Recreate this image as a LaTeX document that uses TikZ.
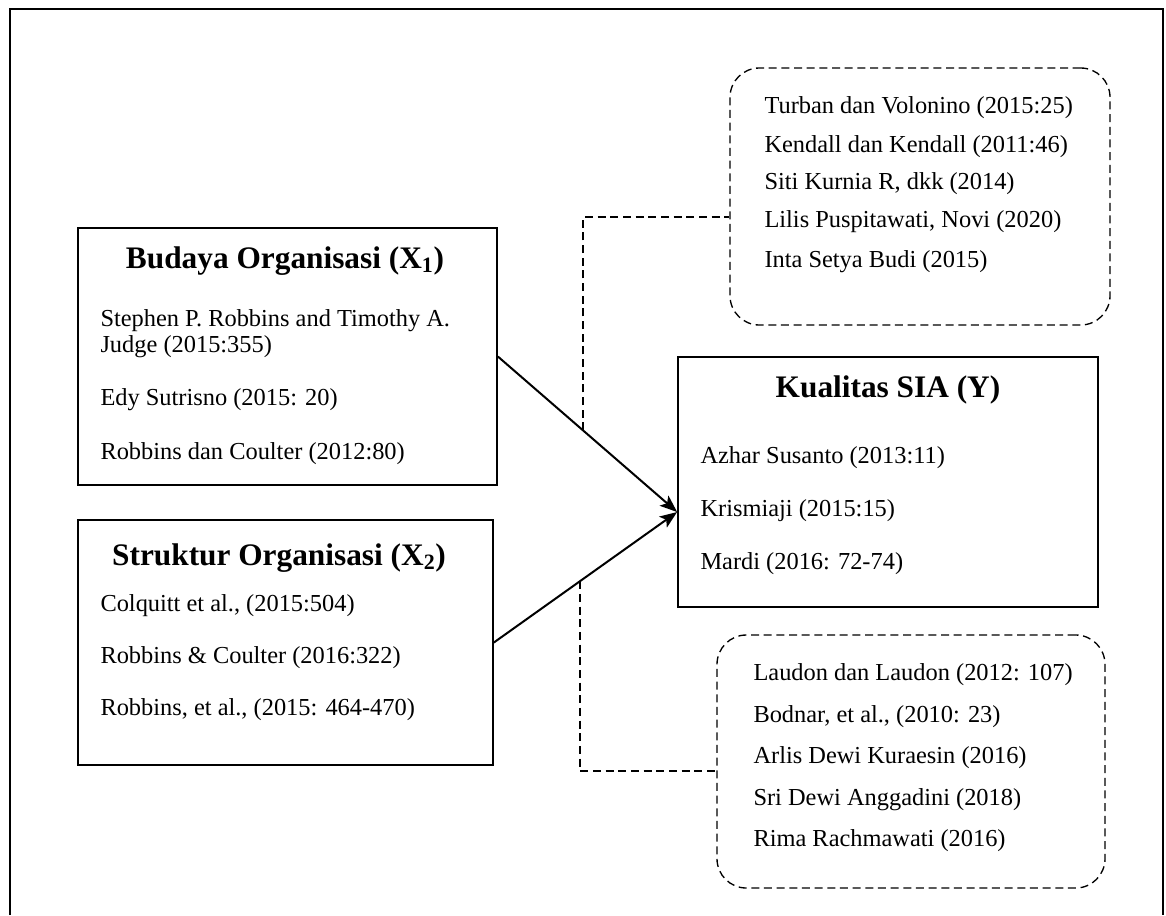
\documentclass[tikz,border=0pt]{standalone}
\usepackage{fontspec}
\setmainfont{Liberation Serif}
\usetikzlibrary{arrows.meta,calc}

\tikzset{every picture/.style={line width=0.75pt}}
\tikzset{
  varbox/.style={draw, rectangle, line width=1.3pt, inner sep=0pt},
  litbox/.style={draw, rectangle, line width=1pt, dash pattern=on 6pt off 3.5pt, rounded corners=22pt, inner sep=0pt},
  judul/.style={anchor=base, inner sep=0.75pt, font=\fontsize{23.5}{28}\selectfont\bfseries},
  refteks/.style={anchor=base west, inner sep=0.75pt, font=\fontsize{18.3}{19}\selectfont, align=left},
  panah/.style={line width=1.5pt, -{Stealth[length=13pt,width=10pt,inset=3pt]}},
  garis/.style={line width=1pt, dash pattern=on 6pt off 3.5pt}
}

\begin{document}
\begin{tikzpicture}[x=0.75pt,y=0.75pt,yscale=-1,xscale=1]
\useasboundingbox (0,0) rectangle (1166,915);

%Shape: Frame
\draw [line width=2pt] (10,915) -- (10,9) -- (1163,9) -- (1163,915) ;

%Shape: Rectangle
\node [varbox, minimum width=314.25pt, minimum height=192.75pt] (budaya) at (287.5,356.5) {};
%Shape: Rectangle
\node [varbox, minimum width=311.25pt, minimum height=183.75pt] (struktur) at (285.5,642.5) {};
%Shape: Rectangle
\node [varbox, minimum width=315pt, minimum height=187.5pt] (kualitas) at (888,482) {};
%Shape: Rounded Rectangle
\node [litbox, minimum width=285pt, minimum height=192.75pt] (lit1) at (920,196.5) {};
%Shape: Rounded Rectangle
\node [litbox, minimum width=291pt, minimum height=189.75pt] (lit2) at (911,761.5) {};

%Straight Lines
\coordinate (temu) at ([yshift=22.5pt]kualitas.west);
\draw [panah] (budaya.east) -- (temu) ;
\draw [panah] (struktur.east) -- (temu) ;
%Dashed Lines
\coordinate (c1) at ($(budaya.east)!0.475!(temu)$);
\draw [garis] (c1) |- ([yshift=15.4pt]lit1.west) ;
\coordinate (c2) at ($(struktur.east)!0.47!(temu)$);
\draw [garis] (c2) |- ([yshift=7pt]lit2.west) ;

% Text Node
\node [judul] (tb) at (285,268) {Budaya Organisasi (X\textsubscript{1})};
\node [refteks] (b1) at (99,352) {Stephen P. Robbins and Timothy A.\\Judge (2015:355)};
\node [refteks] (b2) at (99,405) {Edy Sutrisno (2015: 20)};
\node [refteks] (b3) at (99,459) {Robbins dan Coulter (2012:80)};
% Text Node
\node [judul] (ts) at (279,565) {Struktur Organisasi (X\textsubscript{2})};
\node [refteks] (s1) at (99,611) {Colquitt et al., (2015:504)};
\node [refteks] (s2) at (99,663) {Robbins \& Coulter (2016:322)};
\node [refteks] (s3) at (99,715) {Robbins, et al., (2015: 464-470)};
% Text Node
\node [judul] (tk) at (888,397) {Kualitas SIA (Y)};
\node [refteks] (k1) at (699,463) {Azhar Susanto (2013:11)};
\node [refteks] (k2) at (699,516) {Krismiaji (2015:15)};
\node [refteks] (k3) at (699,569) {Mardi (2016: 72-74)};
% Text Node
\node [refteks] (l1) at (763,113) {Turban dan Volonino (2015:25)};
\node [refteks] (l2) at (763,152) {Kendall dan Kendall (2011:46)};
\node [refteks] (l3) at (763,189) {Siti Kurnia R, dkk (2014)};
\node [refteks] (l4) at (763,227) {Lilis Puspitawati, Novi (2020)};
\node [refteks] (l5) at (763,267) {Inta Setya Budi (2015)};
% Text Node
\node [refteks] (m1) at (752,680) {Laudon dan Laudon (2012: 107)};
\node [refteks] (m2) at (752,722) {Bodnar, et al., (2010: 23)};
\node [refteks] (m3) at (752,763) {Arlis Dewi Kuraesin (2016)};
\node [refteks] (m4) at (752,805) {Sri Dewi Anggadini (2018)};
\node [refteks] (m5) at (752,846) {Rima Rachmawati (2016)};

\end{tikzpicture}
\end{document}
